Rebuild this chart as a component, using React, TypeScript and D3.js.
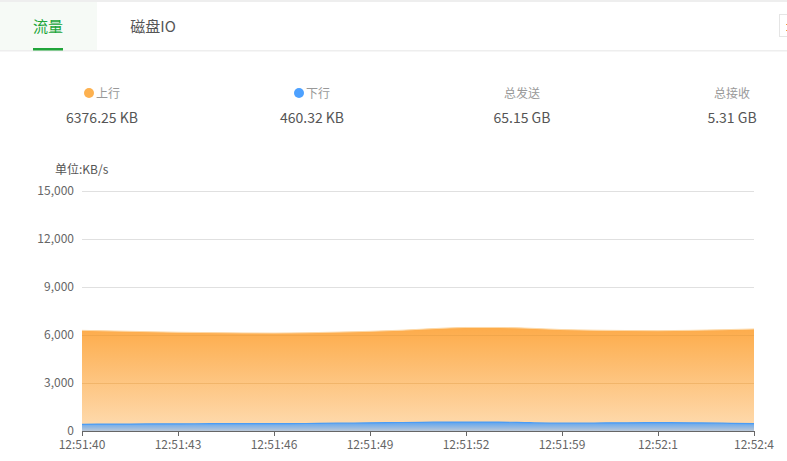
import React from "react";
import * as d3 from "d3";

const times = [
  "12:51:40", "12:51:41", "12:51:42", "12:51:43", "12:51:44", "12:51:45", "12:51:46",
  "12:51:47", "12:51:48", "12:51:49", "12:51:50", "12:51:51", "12:51:52", "12:51:53",
  "12:51:57", "12:51:59", "12:52:0", "12:52:0", "12:52:1", "12:52:2", "12:52:3", "12:52:4",
];
const upload = [
  6290, 6250, 6210, 6170, 6150, 6130, 6120, 6140, 6180, 6230, 6300, 6400, 6470, 6470,
  6420, 6340, 6300, 6280, 6270, 6290, 6330, 6376,
];
const download = [
  420, 430, 440, 450, 455, 455, 460, 470, 490, 510, 530, 550, 560, 555,
  520, 500, 500, 510, 520, 510, 490, 460,
];
const yTicks = [0, 3000, 6000, 9000, 12000, 15000];
const statLabels = ["上行", "下行", "总发送", "总接收"];
const statValues = ["6376.25 KB", "460.32 KB", "65.15 GB", "5.31 GB"];
const statDots = ["#fdb14f", "#4da1ff", null, null];
const tabs = ["流量", "磁盘IO"];

const FONT = "'Microsoft YaHei', 'Noto Sans CJK SC', sans-serif";

export default function App() {
  const W = 787, H = 461;
  const x = d3.scalePoint<number>().domain(d3.range(times.length)).range([82, 754]);
  const y = d3.scaleLinear().domain([0, 15000]).range([431, 191]);
  const area = (vals: number[]) =>
    d3.area<number>()
      .x((_, i) => x(i) as number)
      .y0(y(0))
      .y1((d) => y(d))
      .curve(d3.curveMonotoneX)(vals) as string;
  const line = (vals: number[]) =>
    d3.line<number>()
      .x((_, i) => x(i) as number)
      .y((d) => y(d))
      .curve(d3.curveMonotoneX)(vals) as string;
  const labelIdx = d3.range(0, times.length, 3);
  const colX = [102, 312, 522, 732];

  return (
    <svg width={W} height={H} style={{ position: "absolute", left: 0, top: 0, background: "#fff", fontFamily: FONT }}>
      <defs>
        <linearGradient id="gUp" x1="0" y1={y(6400)} x2="0" y2={y(0)} gradientUnits="userSpaceOnUse">
          <stop offset="0" stopColor="#fdac4b" />
          <stop offset="1" stopColor="#fedcb2" />
        </linearGradient>
        <linearGradient id="gDown" x1="0" y1={y(560)} x2="0" y2={y(0)} gradientUnits="userSpaceOnUse">
          <stop offset="0" stopColor="#5ba3f0" />
          <stop offset="1" stopColor="#bcc9d8" />
        </linearGradient>
      </defs>
      {/* tab bar */}
      <rect x={0} y={0} width={W} height={2} fill="#eeeeee" />
      <rect x={0} y={2} width={97} height={48} fill="#f6faf6" />
      <rect x={0} y={50} width={W} height={1.5} fill="#eeeeee" />
      <rect x={33} y={48} width={30} height={2.5} fill="#20a53a" />
      <text x={48} y={32} textAnchor="middle" fontSize={15} fill="#20a53a">{tabs[0]}</text>
      <text x={153} y={32} textAnchor="middle" fontSize={15} fill="#555">{tabs[1]}</text>
      <rect x={779.5} y={14.5} width={12} height={22} fill="#fff" stroke="#e5e5e5" />
      <rect x={786} y={24} width={1} height={1} fill="#f0a040" />
      <rect x={786} y={30} width={1} height={1} fill="#f0a040" />

      {/* stats */}
      {statLabels.map((l, i) => {
        const dot = statDots[i];
        return (
          <g key={l}>
            {dot ? (
              <>
                <circle cx={colX[i] - 13} cy={93} r={5} fill={dot} />
                <text x={colX[i] - 6} y={97.5} fontSize={12} fill="#999">{l}</text>
              </>
            ) : (
              <text x={colX[i]} y={97.5} textAnchor="middle" fontSize={12} fill="#999">{l}</text>
            )}
            <text x={colX[i]} y={123} textAnchor="middle" fontSize={14} fill="#555">{statValues[i]}</text>
          </g>
        );
      })}

      {/* unit */}
      <text x={55} y={174} fontSize={12} fill="#555">单位:KB/s</text>

      {/* grid */}
      {yTicks.map((t) => (
        <g key={t}>
          {t > 0 && <line x1={82} x2={754} y1={y(t) + 0.5} y2={y(t) + 0.5} stroke="#e0e0e0" />}
          <text x={74} y={y(t) + 4} textAnchor="end" fontSize={12} fill="#666">{d3.format(",")(t)}</text>
        </g>
      ))}

      {/* areas */}
      <path d={area(upload)} fill="url(#gUp)" />
      <path d={line(upload)} fill="none" stroke="#fdd9a8" strokeWidth={1} />
      <path d={area(download)} fill="url(#gDown)" />
      <path d={line(download)} fill="none" stroke="#4a9cf5" strokeWidth={1.2} />

      {/* grid over area */}
      {yTicks.filter((t) => t > 0 && t < 9000).map((t) => (
        <line key={t} x1={82} x2={754} y1={y(t) + 0.5} y2={y(t) + 0.5} stroke="#d9953f" strokeOpacity={0.35} />
      ))}

      {/* x axis */}
      <line x1={82} x2={754} y1={431.5} y2={431.5} stroke="#666" />
      {labelIdx.map((i) => (
        <g key={i}>
          <line x1={(x(i) as number) + 0.5} x2={(x(i) as number) + 0.5} y1={431} y2={436} stroke="#666" />
          <text x={x(i) as number} y={449} textAnchor="middle" fontSize={12} fill="#666">{times[i]}</text>
        </g>
      ))}
    </svg>
  );
}
